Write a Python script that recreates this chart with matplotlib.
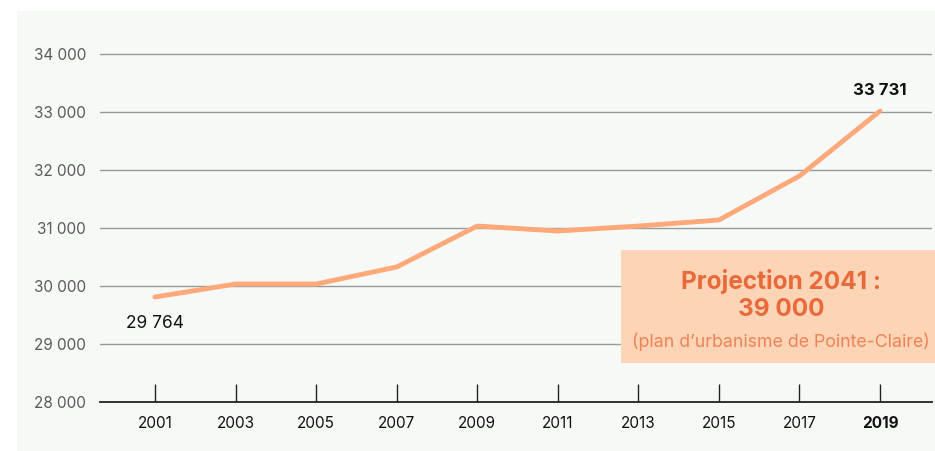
import matplotlib
matplotlib.use("Agg")
from matplotlib import pyplot as plt
from matplotlib.patches import Rectangle

# Données
annees = [2001, 2003, 2005, 2007, 2009, 2011, 2013, 2015, 2017, 2019]
population = [29810, 30034, 30034, 30328, 31034, 30948, 31034, 31138, 31897, 33017]
y_ticks = [28000, 29000, 30000, 31000, 32000, 33000, 34000]
y_labels = ["28 000", "29 000", "30 000", "31 000", "32 000", "33 000", "34 000"]
etiquette_debut = "29 764"
etiquette_fin = "33 731"
projection_titre = "Projection 2041 :"
projection_valeur = "39 000"
projection_source = "(plan d\u2019urbanisme de Pointe-Claire)"

plt.rcParams['font.family'] = ['Inter', 'DejaVu Sans']

W, H = 935, 451
fig = plt.figure(figsize=(W / 100, H / 100), dpi=100)
fig.patch.set_facecolor("white")

# Panneau gris clair
fig.patches.append(Rectangle((17 / W, 0), 1 - 17 / W, 1 - 11 / H, transform=fig.transFigure,
                             facecolor="#f7f9f7", edgecolor="none", zorder=-10))

ax = fig.add_axes([100 / W, 49 / H, 832 / W, 372 / H])
ax.set_facecolor("none")
ax.set_xlim(1999.635, 2020.29)
ax.set_ylim(28000, 34414)

ax.plot(annees, population, color="#ffa97a", linewidth=3.5, solid_capstyle="round",
        solid_joinstyle="round", zorder=3)

ax.set_yticks(y_ticks)
ax.set_yticklabels(y_labels, fontsize=11, color="#5a5a5a")
ax.set_xticks(annees)
ax.set_xticklabels([str(a) for a in annees], fontsize=11, color="#111111")
ax.get_xticklabels()[-1].set_fontweight("bold")

for y in y_ticks[1:]:
    ax.axhline(y, color="#9a9a9a", linewidth=1, zorder=1)

for s in ["top", "right", "left"]:
    ax.spines[s].set_visible(False)
ax.spines["bottom"].set_color("#222222")
ax.spines["bottom"].set_linewidth(1.3)
ax.tick_params(axis="y", length=0, pad=10)
ax.tick_params(axis="x", direction="in", length=13, width=1, color="#222222", pad=10)

ax.annotate(etiquette_debut, (annees[0], population[0]), xytext=(0, -19), textcoords="offset points",
            ha="center", va="center", fontsize=12.5, color="#111111")
ax.annotate(etiquette_fin, (annees[-1], population[-1]), xytext=(0, 15), textcoords="offset points",
            ha="center", va="center", fontsize=12, fontweight="bold", color="#111111")

# Encadré de projection
bx0, by0, bx1, by1 = 621, 250, 935, 363
fig.patches.append(Rectangle((bx0 / W, 1 - by1 / H), (bx1 - bx0) / W, (by1 - by0) / H,
                             transform=fig.transFigure, facecolor="#fdd5b6", edgecolor="none", zorder=5))
cx = 781 / W
fig.text(cx, 1 - 282 / H, projection_titre, ha="center", va="center", fontsize=17.5,
         fontweight="bold", color="#e86a3b", zorder=6)
fig.text(cx, 1 - 310 / H, projection_valeur, ha="center", va="center", fontsize=17.5,
         fontweight="bold", color="#e86a3b", zorder=6)
fig.text(cx, 1 - 342 / H, projection_source, ha="center", va="center", fontsize=12.8,
         color="#ee8356", zorder=6)

fig.savefig("out.png", dpi=100, facecolor=fig.get_facecolor())
